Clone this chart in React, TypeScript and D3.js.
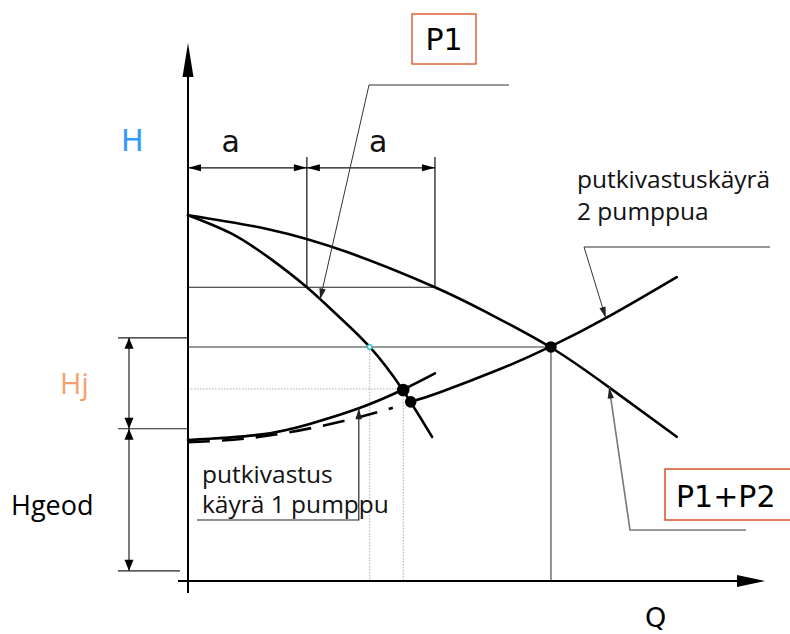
import React from 'react';
import * as d3 from 'd3';

// Pump curves (Q, H in arbitrary units 0..100)
const pump1Q = [0, 7.3, 13.9, 20.6, 26.0, 31.5, 37.1, 42.3];
const pump1H = [68.0, 64.7, 60.2, 54.6, 49.3, 43.5, 35.7, 26.8];
const pumpsQ = [0, 13.9, 27.7, 42.8, 52.0, 62.9, 73.1, 84.7];
const pumpsH = [68.0, 65.4, 61.1, 54.6, 49.8, 43.4, 35.9, 26.8];
// System (pipe resistance) curves
const system1Q = [0, 12.5, 21.1, 29.6, 37.1, 42.8];
const system1H = [26.2, 27.2, 29.2, 32.1, 35.5, 38.6];
const system2Q = [0, 12.5, 26.0, 35.5, 38.6, 43.7, 54.1, 62.9, 73.1, 84.7];
const system2H = [25.8, 26.8, 29.5, 32.2, 33.3, 35.1, 39.4, 43.6, 49.3, 56.5];
const system2DashEnd = 35.5;
const system2SolidStart = 38.6;
// Operating points
const opQ = [62.9, 37.3, 38.6];
const opH = [43.5, 35.5, 33.3];
const cyanQ = 31.5;
const cyanH = 43.5;
// Reference levels
const aQ = [0, 20.6, 42.8];
const aLevelH = 76.8;
const aTickTopH = 78.8;
const refH287 = 54.6;
const hjTopH = 45.2;
const hjBottomH = 28.3;
const hgeodBottomH = 1.9;
// annotation target Q values
const p1TargetQ = 22.9;
const sys2TargetQ = 72.4;
const pumpsTargetQ = 73.0;
const sys1TargetQ = 29.6;

const W = 790;
const H = 634;

const x = d3.scaleLinear().domain([0, 100]).range([188, 765]);
const y = d3.scaleLinear().domain([0, 100]).range([581, 43]);

const zip = (a: number[], b: number[]) => a.map((v, i) => [v, b[i]] as [number, number]);
const interp = (qs: number[], hs: number[], q: number) => {
  for (let i = 0; i < qs.length - 1; i++) {
    if (q >= qs[i] && q <= qs[i + 1]) {
      const t = (q - qs[i]) / (qs[i + 1] - qs[i]);
      return hs[i] + t * (hs[i + 1] - hs[i]);
    }
  }
  return hs[hs.length - 1];
};

const line = d3
  .line<[number, number]>()
  .x((d) => x(d[0]))
  .y((d) => y(d[1]))
  .curve(d3.curveNatural);

function arrowHead(tx: number, ty: number, dx: number, dy: number, len: number, half: number, fill = '#000') {
  const n = Math.hypot(dx, dy);
  const ux = dx / n;
  const uy = dy / n;
  const bx = tx - ux * len;
  const by = ty - uy * len;
  const px = -uy * half;
  const py = ux * half;
  return (
    <polygon
      points={`${tx},${ty} ${bx + px},${by + py} ${bx - px},${by - py}`}
      fill={fill}
      stroke="none"
    />
  );
}

function Leader({ pts, tip, color = '#333', width = 1 }: { pts: [number, number][]; tip: [number, number]; color?: string; width?: number }) {
  const last = pts[pts.length - 1];
  const all = [...pts, tip];
  return (
    <g>
      <polyline points={all.map((p) => p.join(',')).join(' ')} fill="none" stroke={color} strokeWidth={width} />
      {arrowHead(tip[0], tip[1], tip[0] - last[0], tip[1] - last[1], 11, 3.2, '#222')}
    </g>
  );
}

export default function App() {
  const p1 = zip(pump1Q, pump1H);
  const pp = zip(pumpsQ, pumpsH);
  const s1 = zip(system1Q, system1H);
  const s2 = zip(system2Q, system2H);
  const s2dash = s2.filter((d) => d[0] <= system2DashEnd);
  const s2solid = s2.filter((d) => d[0] >= system2SolidStart);

  const x0 = x(0);
  const sansD = 'DejaVu Sans, Verdana, sans-serif';
  const sansO = '"Open Sans", "Noto Sans", sans-serif';

  const p1Tip: [number, number] = [x(p1TargetQ), y(interp(pump1Q, pump1H, p1TargetQ))];
  const s2Tip: [number, number] = [x(sys2TargetQ), y(interp(system2Q, system2H, sys2TargetQ))];
  const ppTip: [number, number] = [x(pumpsTargetQ), y(interp(pumpsQ, pumpsH, pumpsTargetQ))];
  const s1Tip: [number, number] = [x(sys1TargetQ), y(interp(system1Q, system1H, sys1TargetQ))];

  const dimX = 129;

  return (
    <svg width={W} height={H} style={{ position: 'absolute', left: 0, top: 0, background: '#fff' }}>
      <rect x={0} y={0} width={W} height={H} fill="#fff" />

      {/* dotted guide lines */}
      <g stroke="#aaa" strokeWidth={1} strokeDasharray="1.5,1.5" fill="none">
        <line x1={x0} x2={x(opQ[1])} y1={y(pump1H[6])} y2={y(pump1H[6])} />
        <line x1={x(cyanQ)} x2={x(cyanQ)} y1={y(cyanH)} y2={y(0)} />
        <line x1={x(opQ[1])} x2={x(opQ[1])} y1={y(opH[1])} y2={y(0)} />
      </g>

      {/* reference lines */}
      <line x1={x0} x2={x(aQ[2])} y1={y(refH287)} y2={y(refH287)} stroke="#222" strokeWidth={1.2} />
      <line x1={x0} x2={x(opQ[0])} y1={y(opH[0])} y2={y(opH[0])} stroke="#777" strokeWidth={1.6} />
      <line x1={x(opQ[0])} x2={x(opQ[0])} y1={y(opH[0])} y2={y(0)} stroke="#777" strokeWidth={1.6} />

      {/* dimension a */}
      <g stroke="#111" strokeWidth={1.2}>
        <line x1={x(aQ[0])} x2={x(aQ[2])} y1={y(aLevelH)} y2={y(aLevelH)} />
        <line x1={x(aQ[1])} x2={x(aQ[1])} y1={y(aTickTopH)} y2={y(refH287)} />
        <line x1={x(aQ[2])} x2={x(aQ[2])} y1={y(aTickTopH)} y2={y(refH287)} />
      </g>
      {arrowHead(x(aQ[0]), y(aLevelH), -1, 0, 13, 3.5)}
      {arrowHead(x(aQ[1]), y(aLevelH), 1, 0, 13, 3.5)}
      {arrowHead(x(aQ[1]), y(aLevelH), -1, 0, 13, 3.5)}
      {arrowHead(x(aQ[2]), y(aLevelH), 1, 0, 13, 3.5)}
      <text x={(x(aQ[0]) + x(aQ[1])) / 2 - 26} y={152} fontFamily={sansD} fontSize={30} fill="#111">a</text>
      <text x={(x(aQ[1]) + x(aQ[2])) / 2 - 2} y={152} fontFamily={sansD} fontSize={30} fill="#111">a</text>

      {/* Hj / Hgeod dimension */}
      <g stroke="#222" strokeWidth={1.2}>
        <line x1={118} x2={x0} y1={y(hjTopH)} y2={y(hjTopH)} />
        <line x1={118} x2={x0} y1={y(hjBottomH)} y2={y(hjBottomH)} />
        <line x1={118} x2={180} y1={y(hgeodBottomH)} y2={y(hgeodBottomH)} />
        <line x1={dimX} x2={dimX} y1={y(hjTopH)} y2={y(hgeodBottomH)} />
      </g>
      {arrowHead(dimX, y(hjTopH), 0, -1, 11, 4.5)}
      {arrowHead(dimX, y(hjBottomH), 0, 1, 11, 4.5)}
      {arrowHead(dimX, y(hjBottomH), 0, -1, 11, 4.5)}
      {arrowHead(dimX, y(hgeodBottomH), 0, 1, 11, 4.5)}

      {/* curves */}
      <g fill="none" stroke="#000" strokeWidth={2.6} strokeLinecap="round">
        <path d={line(p1) || ''} />
        <path d={line(pp) || ''} />
        <path d={line(s1) || ''} />
        <path d={line(s2solid) || ''} />
        <path d={line(s2dash) || ''} strokeDasharray="22,12" strokeLinecap="butt" />
      </g>

      {/* axes */}
      <line x1={x0} x2={x0} y1={77} y2={593} stroke="#000" strokeWidth={2} />
      {arrowHead(x0, 43, 0, -1, 34, 5.5)}
      <line x1={178} x2={740} y1={y(0)} y2={y(0)} stroke="#000" strokeWidth={2} />
      {arrowHead(765, y(0), 1, 0, 28, 6)}

      {/* operating points */}
      <circle cx={x(opQ[0])} cy={y(opH[0])} r={5.8} fill="#000" />
      <circle cx={x(opQ[1])} cy={y(opH[1])} r={6.3} fill="#000" />
      <circle cx={x(opQ[2])} cy={y(opH[2])} r={5.8} fill="#000" />
      <circle cx={x(cyanQ)} cy={y(cyanH)} r={2.3} fill="#fff" stroke="#22c0d0" strokeWidth={1.4} />

      {/* leaders */}
      <Leader pts={[[509, 85], [369, 85]]} tip={p1Tip} color="#333" />
      <Leader pts={[[770, 247], [584, 247]]} tip={s2Tip} color="#333" />
      <Leader pts={[[746, 530], [630, 530]]} tip={ppTip} color="#777" width={1.6} />
      <Leader pts={[[197, 520], [s1Tip[0], 520]]} tip={s1Tip} color="#222" width={1.2} />

      {/* boxes */}
      <rect x={412} y={14} width={64} height={50} fill="#fff" stroke="#e0603c" strokeWidth={1.5} />
      <text x={444} y={50} textAnchor="middle" fontFamily={sansD} fontSize={30} fill="#000">P1</text>
      <rect x={665} y={469} width={140} height={51} fill="#fff" stroke="#d8502e" strokeWidth={1.5} />
      <text x={676} y={507} fontFamily={sansD} fontSize={30} fill="#000">P1+P2</text>

      {/* labels */}
      <text x={121} y={151} fontFamily={sansD} fontSize={30} fill="#3399ff">H</text>
      <text x={60} y={394} fontFamily={sansO} fontSize={29} fill="#f6a06e">Hj</text>
      <text x={11} y={515} fontFamily={sansO} fontSize={27} fill="#000">Hgeod</text>
      <text x={645} y={627} fontFamily={sansD} fontSize={27} fill="#000">Q</text>

      <text fontFamily={sansO} fontSize={24.5} fill="#111">
        <tspan x={577} y={188}>putkivastuskäyrä</tspan>
        <tspan x={577} y={220}>2 pumppua</tspan>
      </text>
      <text fontFamily={sansO} fontSize={24.5} fill="#111">
        <tspan x={202} y={483}>putkivastus</tspan>
        <tspan x={202} y={513}>käyrä 1 pumppu</tspan>
      </text>
    </svg>
  );
}
